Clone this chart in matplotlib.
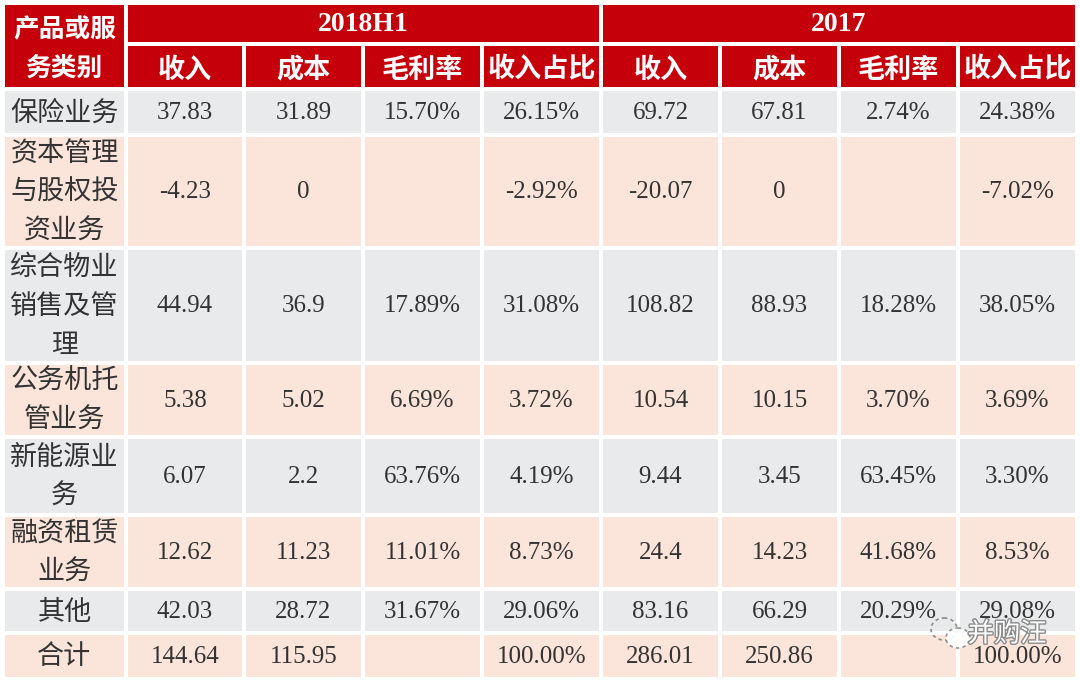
import matplotlib.pyplot as plt
from matplotlib.patches import Rectangle, Ellipse
import matplotlib.patheffects as pe

plt.rcParams['font.family'] = ['Noto Sans CJK SC', 'DejaVu Sans']

# data
categories = ['保险业务', '资本管理\n与股权投\n资业务', '综合物业\n销售及管\n理',
              '公务机托\n管业务', '新能源业\n务', '融资租赁\n业务', '其他', '合计']
periods = ['2018H1', '2017']
sub_headers = ['收入', '成本', '毛利率', '收入占比']

rev_h1 = ['37.83', '-4.23', '44.94', '5.38', '6.07', '12.62', '42.03', '144.64']
cost_h1 = ['31.89', '0', '36.9', '5.02', '2.2', '11.23', '28.72', '115.95']
margin_h1 = ['15.70%', '', '17.89%', '6.69%', '63.76%', '11.01%', '31.67%', '']
share_h1 = ['26.15%', '-2.92%', '31.08%', '3.72%', '4.19%', '8.73%', '29.06%', '100.00%']

rev_17 = ['69.72', '-20.07', '108.82', '10.54', '9.44', '24.4', '83.16', '286.01']
cost_17 = ['67.81', '0', '88.93', '10.15', '3.45', '14.23', '66.29', '250.86']
margin_17 = ['2.74%', '', '18.28%', '3.70%', '63.45%', '41.68%', '20.29%', '']
share_17 = ['24.38%', '-7.02%', '38.05%', '3.69%', '3.30%', '8.53%', '29.08%', '100.00%']

columns = [rev_h1, cost_h1, margin_h1, share_h1, rev_17, cost_17, margin_17, share_17]

# layout (pixels)
col_edges = [3, 126, 244, 363, 482, 601, 720, 839, 958, 1077]
head_edges = [3, 44, 89]
row_edges = [89, 135, 248, 363, 437, 515, 589, 633, 679]

red = '#c6000b'
row_colors = ['#e9eaec', '#fbe4d9']
gap = 1.6

fig = plt.figure(figsize=(10.8, 6.82), dpi=100)
ax = fig.add_axes([0, 0, 1, 1])
ax.set_xlim(0, 1080)
ax.set_ylim(682, 0)
ax.axis('off')


def cell(x0, x1, y0, y1, color):
    ax.add_patch(Rectangle((x0 + gap, y0 + gap), x1 - x0 - 2 * gap, y1 - y0 - 2 * gap,
                           facecolor=color, edgecolor='none'))


# header
cell(col_edges[0], col_edges[1], head_edges[0], head_edges[2], red)
ax.text((col_edges[0] + col_edges[1]) / 2, (head_edges[0] + head_edges[2]) / 2 + 3,
        '产品或服\n务类别', color='white', fontsize=18.5, fontweight='bold',
        ha='center', va='center', linespacing=1.5)
for p, name in enumerate(periods):
    x0 = col_edges[1 + 4 * p]
    x1 = col_edges[5 + 4 * p]
    cell(x0, x1, head_edges[0], head_edges[1], red)
    ax.text((x0 + x1) / 2, (head_edges[0] + head_edges[1]) / 2 + 1, name,
            color='white', fontsize=20, fontweight='bold', family='Liberation Serif',
            ha='center', va='center')
    for j, sh in enumerate(sub_headers):
        a = col_edges[1 + 4 * p + j]
        b = col_edges[2 + 4 * p + j]
        cell(a, b, head_edges[1], head_edges[2], red)
        ax.text((a + b) / 2, (head_edges[1] + head_edges[2]) / 2 + 3, sh,
                color='white', fontsize=19.5, fontweight='bold',
                ha='center', va='center')

# body
for i, cat in enumerate(categories):
    y0, y1 = row_edges[i], row_edges[i + 1]
    yc = (y0 + y1) / 2
    color = row_colors[i % 2]
    cell(col_edges[0], col_edges[1], y0, y1, color)
    ax.text((col_edges[0] + col_edges[1]) / 2, yc + 1, cat, color='#333333',
            fontsize=19.5, ha='center', va='center', linespacing=1.55)
    for j, col in enumerate(columns):
        a, b = col_edges[j + 1], col_edges[j + 2]
        cell(a, b, y0, y1, color)
        if col[i]:
            ax.text((a + b) / 2, yc + 1, col[i], color='#333333', fontsize=18,
                    family='Liberation Serif', ha='center', va='center')

# watermark
ax.add_patch(Ellipse((944, 629), 26, 22, facecolor='none', edgecolor='#8a8a8a',
                     linestyle=(0, (2, 2)), linewidth=1.2))
ax.add_patch(Ellipse((958, 638), 24, 20, facecolor='white', edgecolor='#8a8a8a',
                     linestyle=(0, (2, 2)), linewidth=1.2, alpha=0.9))
ax.text(1007, 634, '并购汪', color='white', fontsize=19, ha='center', va='center',
        path_effects=[pe.withStroke(linewidth=2, foreground='#8a8a8a')])

fig.savefig('out.png', dpi=100, facecolor='white')
